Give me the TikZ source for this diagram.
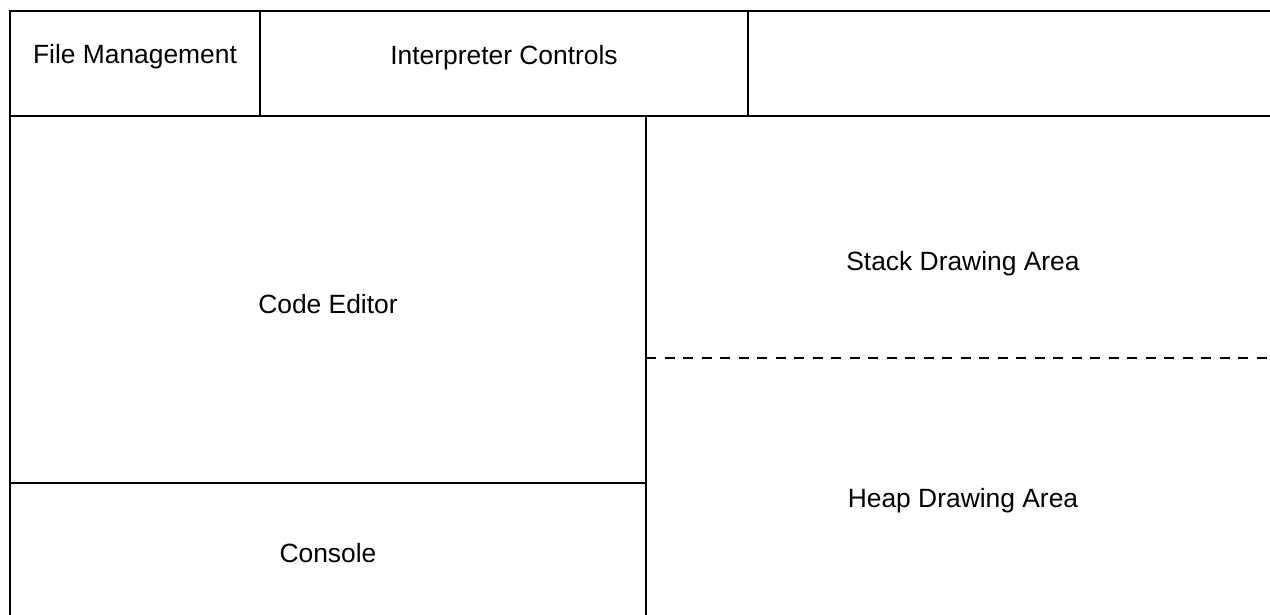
\documentclass[tikz,border=0pt]{standalone}
\usepackage{fontspec}
\setmainfont{Liberation Sans}
\begin{document}
\begin{tikzpicture}[x=1pt,y=-1pt,
  frame/.style={line width=2.4pt,black},
  split/.style={line width=2.4pt,black,dash pattern=on 10pt off 8.5pt},
  label/.style={anchor=base,inner sep=0pt,font=\fontsize{26.4}{30}\selectfont}]
  \useasboundingbox[fill=white] (0,0) rectangle (1270,615);
  % outer frame and toolbar
  \coordinate (tl) at (10,11);
  \coordinate (tr) at (1270,11);
  \coordinate (bl) at (10,615);
  \draw[frame] (bl) -- (tl) -- (tr);
  \draw[frame] (10,116) -- (1270,116);
  \draw[frame] (260,11) -- (260,116);
  \draw[frame] (748,11) -- (748,116);
  % editor / drawing split
  \draw[frame] (646,116) -- (646,615);
  \draw[frame] (10,483) -- (646,483);
  \draw[split] (646,358) -- (1270,358);
  % labels
  \node[label] (files) at (135,64) {File Management};
  \node[label] (interp) at (504,65) {Interpreter Controls};
  \node[label] (editor) at (328,313) {Code Editor};
  \node[label] (stack) at (963,270) {Stack Drawing Area};
  \node[label] (heap) at (963,507) {Heap Drawing Area};
  \node[label] (console) at (328,562) {Console};
\end{tikzpicture}
\end{document}
